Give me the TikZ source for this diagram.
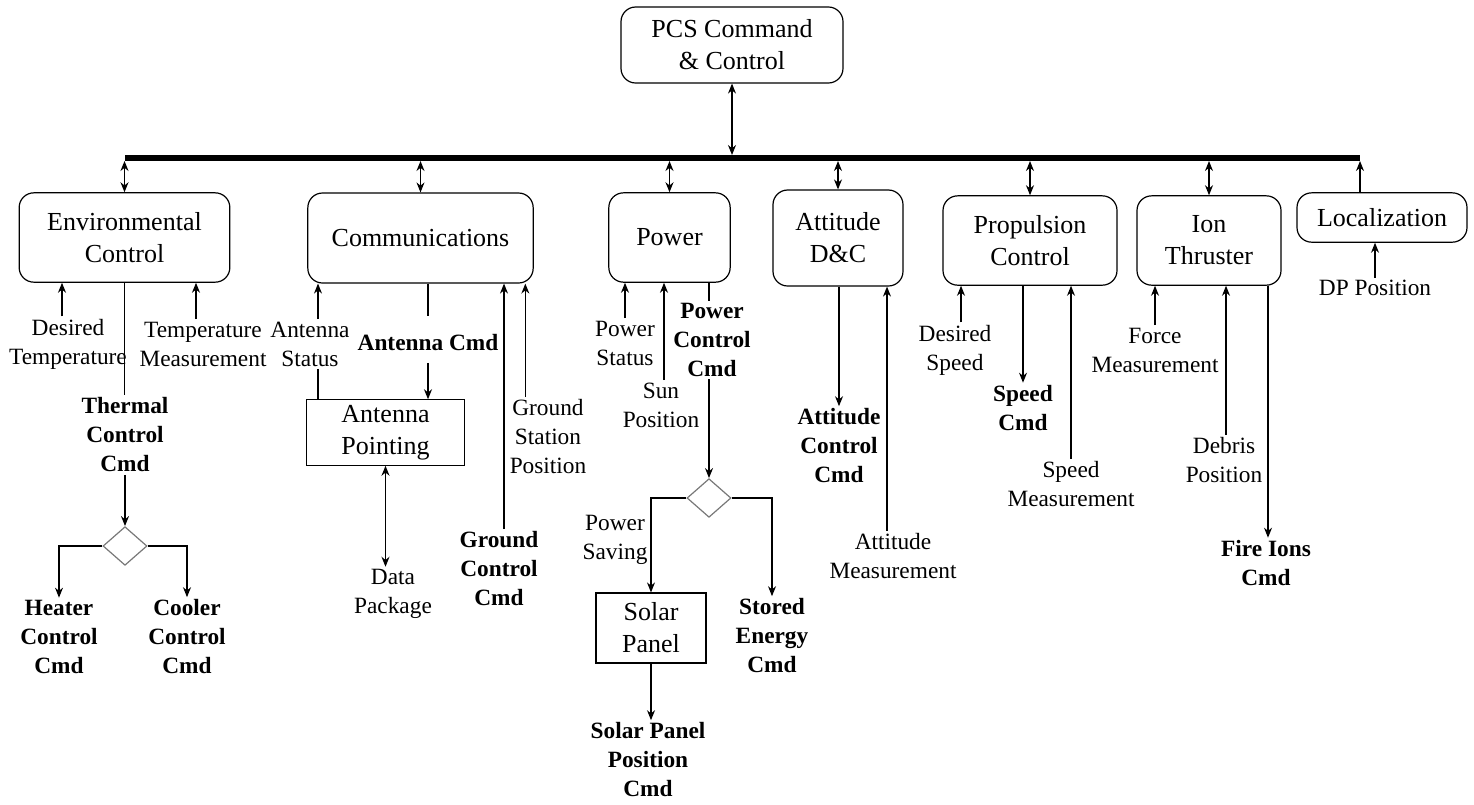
\documentclass[tikz,border=0pt]{standalone}
\usepackage{fontspec}
\setmainfont{Liberation Serif}
\usetikzlibrary{arrows.meta}
\usetikzlibrary{shapes.geometric}

\tikzset{
  modbox/.style={draw, rounded corners=11pt, align=center, font=\fontsize{19.5}{24}\selectfont, inner sep=2pt},
  subbox/.style={draw, align=center, font=\fontsize{19.5}{24}\selectfont, inner sep=2pt},
  lbl/.style={align=center, font=\fontsize{17.5}{21.75}\selectfont, inner sep=1.5pt},
  cmd/.style={align=center, font=\fontsize{17.5}{21.75}\selectfont\bfseries, inner sep=1.5pt},
  choice/.style={diamond, draw={rgb,255:red,120;green,120;blue,120}, minimum width=33pt, minimum height=29pt, inner sep=0pt},
  bus/.style={line width=3.8pt},
}

\begin{document}
\begin{tikzpicture}[x=0.75pt,y=0.75pt,yscale=-1,xscale=1, line width=0.9pt, >={Stealth[length=7.5pt,width=6pt]}]
\useasboundingbox (0,0) rectangle (1474,804);

%Top box and bus
\node[modbox, minimum width=166.5pt, minimum height=57pt] (pcs) at (732,45) {PCS Command\\\& Control};
\coordinate (busL) at (125,158);
\coordinate (busR) at (1360,158);
\coordinate (busT) at (125,155);
\coordinate (busB) at (125,161);
\draw[bus] (busL) -- (busR);
\draw[<->] (pcs.south) -- (pcs.south |- busT);

%Subsystems
\node[modbox, minimum width=158pt, minimum height=67pt] (env) at (124.5,237.5) {Environmental\\Control};
\node[modbox, minimum width=169pt, minimum height=67.5pt] (comm) at (420.5,238) {Communications};
\node[modbox, minimum width=91pt, minimum height=67pt] (power) at (669.5,237.5) {Power};
\node[modbox, minimum width=97.5pt, minimum height=72pt] (att) at (838,238) {Attitude\\D\&C};
\node[modbox, minimum width=130.5pt, minimum height=67pt] (prop) at (1030,240.5) {Propulsion\\Control};
\node[modbox, minimum width=108pt, minimum height=67pt] (ion) at (1209,240.5) {Ion\\Thruster};
\node[modbox, minimum width=127.5pt, minimum height=37pt] (loc) at (1382,217.5) {Localization};

%Bus links
\foreach \m in {env,comm,power,att,prop,ion}
  \draw[<->] (\m.north) -- (\m.north |- busB);
\draw[->] (busR |- loc.north) -- (busR |- busB);

%Environmental control
\node[lbl] (dtemp) at (68,344) {Desired\\Temperature};
\node[lbl] (tmeas) at (203,344) {Temperature\\Measurement};
\node[cmd] (thermal) at (125,435) {Thermal\\Control\\Cmd};
\node[choice] (dthermal) at (125,546) {};
\node[cmd] (heater) at (59,637) {Heater\\Control\\Cmd};
\node[cmd] (cooler) at (187,637) {Cooler\\Control\\Cmd};
\draw[->] ([xshift=-4.5pt]dtemp.north) -- ([xshift=-4.5pt]dtemp.north |- env.south);
\draw[->] ([xshift=-5.25pt]tmeas.north) -- ([xshift=-5.25pt]tmeas.north |- env.south);
\draw (env.south) -- (env.south |- thermal.north);
\draw[->] (thermal.south) -- (dthermal.north);
\draw[->] (dthermal.west) -| (heater.north);
\draw[->] (dthermal.east) -| (cooler.north);

%Communications
\node[lbl] (astat) at (310,344) {Antenna\\Status};
\node[cmd] (antcmd) at (428,343) {Antenna Cmd};
\node[subbox, minimum width=119pt, minimum height=49pt] (antp) at (385.5,432.5) {Antenna\\Pointing};
\node[lbl] (dpack) at (393,594) {Data\\Package};
\node[cmd] (gcc) at (499,569) {Ground\\Control\\Cmd};
\node[lbl] (gsp) at (548,437) {Ground\\Station\\Position};
\draw[->] ([xshift=6pt]astat.north) -- ([xshift=6pt]astat.north |- comm.south);
\draw ([xshift=6pt]astat.south) -- ([xshift=6pt]astat.south |- antp.north);
\draw (antcmd.north |- comm.south) -- ([yshift=-12pt]antcmd.north);
\draw[->] ([yshift=6.75pt]antcmd.south) -- (antcmd.south |- antp.north);
\draw[<->] (antp.south) -- (antp.south |- dpack.north);
\draw[->] ([xshift=3.75pt]gcc.north) -- ([xshift=3.75pt]gcc.north |- comm.south);
\draw[->] ([xshift=-17pt]gsp.north) -- ([xshift=-17pt]gsp.north |- comm.south);

%Power
\node[lbl] (pstat) at (625,343) {Power\\Status};
\node[lbl] (sunp) at (661,405) {Sun\\Position};
\node[cmd] (pcc) at (712,340) {Power\\Control\\Cmd};
\node[choice] (dpower) at (709,498) {};
\node[lbl] (psave) at (615,540) {Power\\Saving};
\node[subbox, minimum width=82.5pt, minimum height=52.5pt] (solar) at (651,628) {Solar\\Panel};
\node[cmd] (stored) at (772,636) {Stored\\Energy\\Cmd};
\node[cmd] (spcmd) at (648,760) {Solar Panel\\Position\\Cmd};
\draw[->] (pstat.north) -- (pstat.north |- power.south);
\draw[->] ([xshift=2.25pt]sunp.north) -- ([xshift=2.25pt]sunp.north |- power.south);
\draw ([xshift=-2.25pt]pcc.north |- power.south) -- ([xshift=-2.25pt]pcc.north);
\draw[->] ([xshift=-2.25pt]pcc.south) -- (dpower.north);
\draw[->] (dpower.west) -| (solar.north);
\draw[->] (dpower.east) -| (stored.north);
\draw[->] (solar.south) -- (solar.south |- spcmd.north);

%Attitude
\node[cmd] (attcmd) at (839,446) {Attitude\\Control\\Cmd};
\node[lbl] (attm) at (893,556) {Attitude\\Measurement};
\draw[->] (attcmd.north |- att.south) -- (attcmd.north);
\draw[->] ([xshift=-4.5pt]attm.north) -- ([xshift=-4.5pt]attm.north |- att.south);

%Propulsion
\node[lbl] (dspeed) at (955,350) {Desired\\Speed};
\node[cmd] (speedcmd) at (1023,408) {Speed\\Cmd};
\node[lbl] (smeas) at (1071,484) {Speed\\Measurement};
\draw[->] ([xshift=4.5pt]dspeed.north) -- ([xshift=4.5pt]dspeed.north |- prop.south);
\draw[->] (speedcmd.north |- prop.south) -- (speedcmd.north);
\draw[->] (smeas.north) -- (smeas.north |- prop.south);

%Ion thruster
\node[lbl] (fmeas) at (1155,350) {Force\\Measurement};
\node[lbl] (dpos) at (1224,460) {Debris\\Position};
\node[cmd] (fire) at (1266,563) {Fire Ions\\Cmd};
\draw[->] (fmeas.north) -- (fmeas.north |- ion.south);
\draw[->] ([xshift=1.5pt]dpos.north) -- ([xshift=1.5pt]dpos.north |- ion.south);
\draw[->] ([xshift=1.5pt]fire.north |- ion.south) -- ([xshift=1.5pt]fire.north);

%Localization
\node[lbl] (dppos) at (1375,288) {DP Position};
\draw[->] (dppos.north) -- (dppos.north |- loc.south);

\end{tikzpicture}
\end{document}
